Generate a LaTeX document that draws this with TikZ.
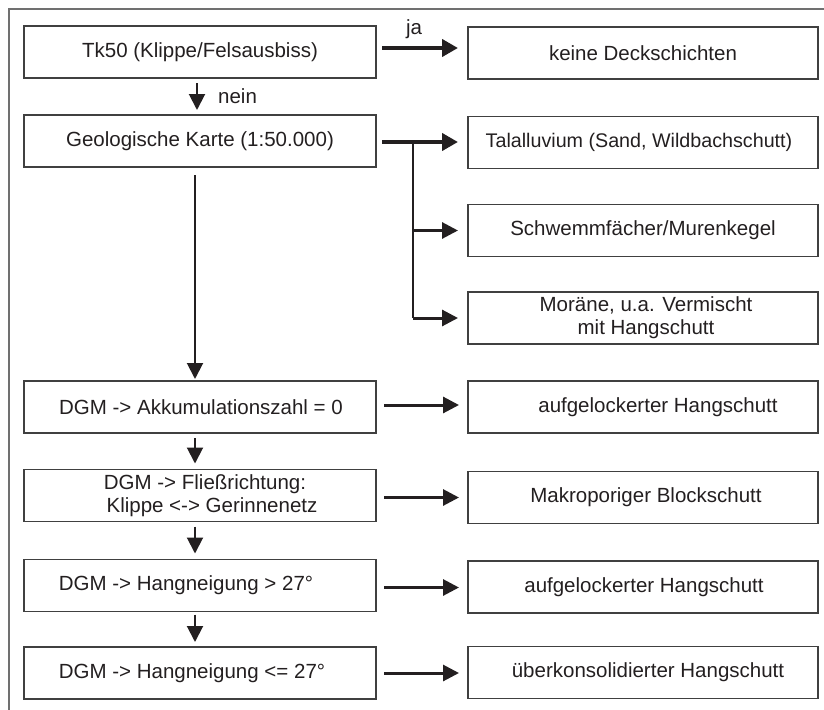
\documentclass[tikz,border=0pt]{standalone}
\usepackage{fontspec}
\setmainfont{Liberation Sans}
\usetikzlibrary{arrows.meta}
\definecolor{ink}{HTML}{231F20}
\definecolor{framegray}{HTML}{707070}
\newcommand{\padl}[1]{\rule{#1}{0pt}}
\tikzset{
  box/.style={draw=black!75, line width=1.3pt, rectangle, inner sep=0pt, outer sep=0pt,
    minimum height=52pt, text=ink, font=\fontsize{20.5}{23}\selectfont, align=center},
  lbox/.style={box, minimum width=352pt},
  rbox/.style={box, minimum width=350pt},
  lbl/.style={text=ink, font=\fontsize{20.5}{23}\selectfont, inner sep=0pt},
  bigarrow/.style={draw=ink, line width=4pt, -{Triangle[length=16pt,width=17pt]}},
  midarrow/.style={draw=ink, line width=3pt, -{Triangle[length=16pt,width=16pt]}},
  downarrow/.style={draw=ink, line width=2pt, -{Triangle[length=16pt,width=16pt]}},
  branchline/.style={draw=ink, line width=2pt},
}
\begin{document}
\begin{tikzpicture}[x=1pt,y=-1pt]
\useasboundingbox (0,0) rectangle (824,709);
\begin{scope}
\clip (0,0) rectangle (824,709);
\draw[framegray, line width=2pt] (9,9) rectangle (860,740);
\end{scope}

% left column
\node[lbox] (tk) at (200,52) {Tk50 (Klippe/Felsausbiss)};
\node[lbox] (geol) at (200,141) {Geologische Karte (1:50.000)};
\node[lbox] (akk) at (200,407) {\padl{2pt}DGM -> Akkumulationszahl = 0};
\node[lbox] (fliess) at (200,495.5) {\padl{10pt}DGM -> Fließrichtung:\\\padl{24pt}Klippe <-> Gerinnenetz};
\node[lbox] (hang1) at (200,585.5) {DGM -> Hangneigung > 27°\padl{28pt}};
\node[lbox] (hang2) at (200,673) {DGM -> Hangneigung <= 27°\padl{16pt}};

% right column
\node[rbox] (keine) at (643,53) {keine Deckschichten};
\node[rbox, font=\fontsize{19.7}{23}\selectfont] (tal) at (643,142.5) {Talalluvium (Sand, Wildbachschutt)\padl{8pt}};
\node[rbox] (schwemm) at (643,230.5) {Schwemmfächer/Murenkegel};
\node[rbox] (morane) at (643,318) {\padl{6pt}Moräne, u.a. Vermischt\\\padl{6pt}mit Hangschutt};
\node[rbox] (aufg1) at (643,407) {\padl{30pt}aufgelockerter Hangschutt};
\node[rbox] (makro) at (643,497.5) {\padl{6pt}Makroporiger Blockschutt};
\node[rbox] (aufg2) at (643,587) {\padl{2pt}aufgelockerter Hangschutt};
\node[rbox] (ueber) at (643,672.5) {\padl{10pt}überkonsolidierter Hangschutt};

% labels
\node[lbl, anchor=base] (ja) at (414,35) {ja};
\node[lbl, anchor=base west] (nein) at (218,103) {nein};

% top connectors
\draw[bigarrow] ([xshift=6pt,yshift=4pt]tk.east) -- ([xshift=-10pt,yshift=5pt]keine.west);
\draw[downarrow] ([xshift=-3pt,yshift=-5pt]tk.south) -- ([xshift=-3pt,yshift=5pt]geol.north);
\draw[bigarrow] ([xshift=6pt,yshift=-1pt]geol.east) -- ([xshift=-10pt,yshift=0.5pt]tal.west);
\coordinate (J) at (413,142);
\draw[branchline] (J) -- (J |- morane.west);
\draw[midarrow] (J |- schwemm.west) -- ([xshift=-10pt]schwemm.west);
\draw[midarrow] (J |- morane.west) -- ([xshift=-10pt]morane.west);

% long vertical
\draw[downarrow] ([xshift=-5pt,yshift=-8pt]geol.south) -- ([xshift=-5pt,yshift=2pt]akk.north);

% lower vertical arrows
\draw[downarrow] ([xshift=-5pt,yshift=-5pt]akk.south) -- ([xshift=-5pt,yshift=6pt]fliess.north);
\draw[downarrow] ([xshift=-5pt,yshift=-5pt]fliess.south) -- ([xshift=-5pt,yshift=6pt]hang1.north);
\draw[downarrow] ([xshift=-5pt,yshift=-3pt]hang1.south) -- ([xshift=-5pt,yshift=5pt]hang2.north);

% lower horizontal arrows
\draw[midarrow] ([xshift=8pt,yshift=2pt]akk.east) -- ([xshift=-9pt,yshift=2pt]aufg1.west);
\draw[midarrow] ([xshift=8pt,yshift=-2pt]fliess.east) -- ([xshift=-9pt]makro.west);
\draw[midarrow] ([xshift=8pt,yshift=-2pt]hang1.east) -- ([xshift=-9pt,yshift=-0.5pt]aufg2.west);
\draw[midarrow] ([xshift=8pt]hang2.east) -- ([xshift=-9pt,yshift=-0.5pt]ueber.west);
\end{tikzpicture}
\end{document}
